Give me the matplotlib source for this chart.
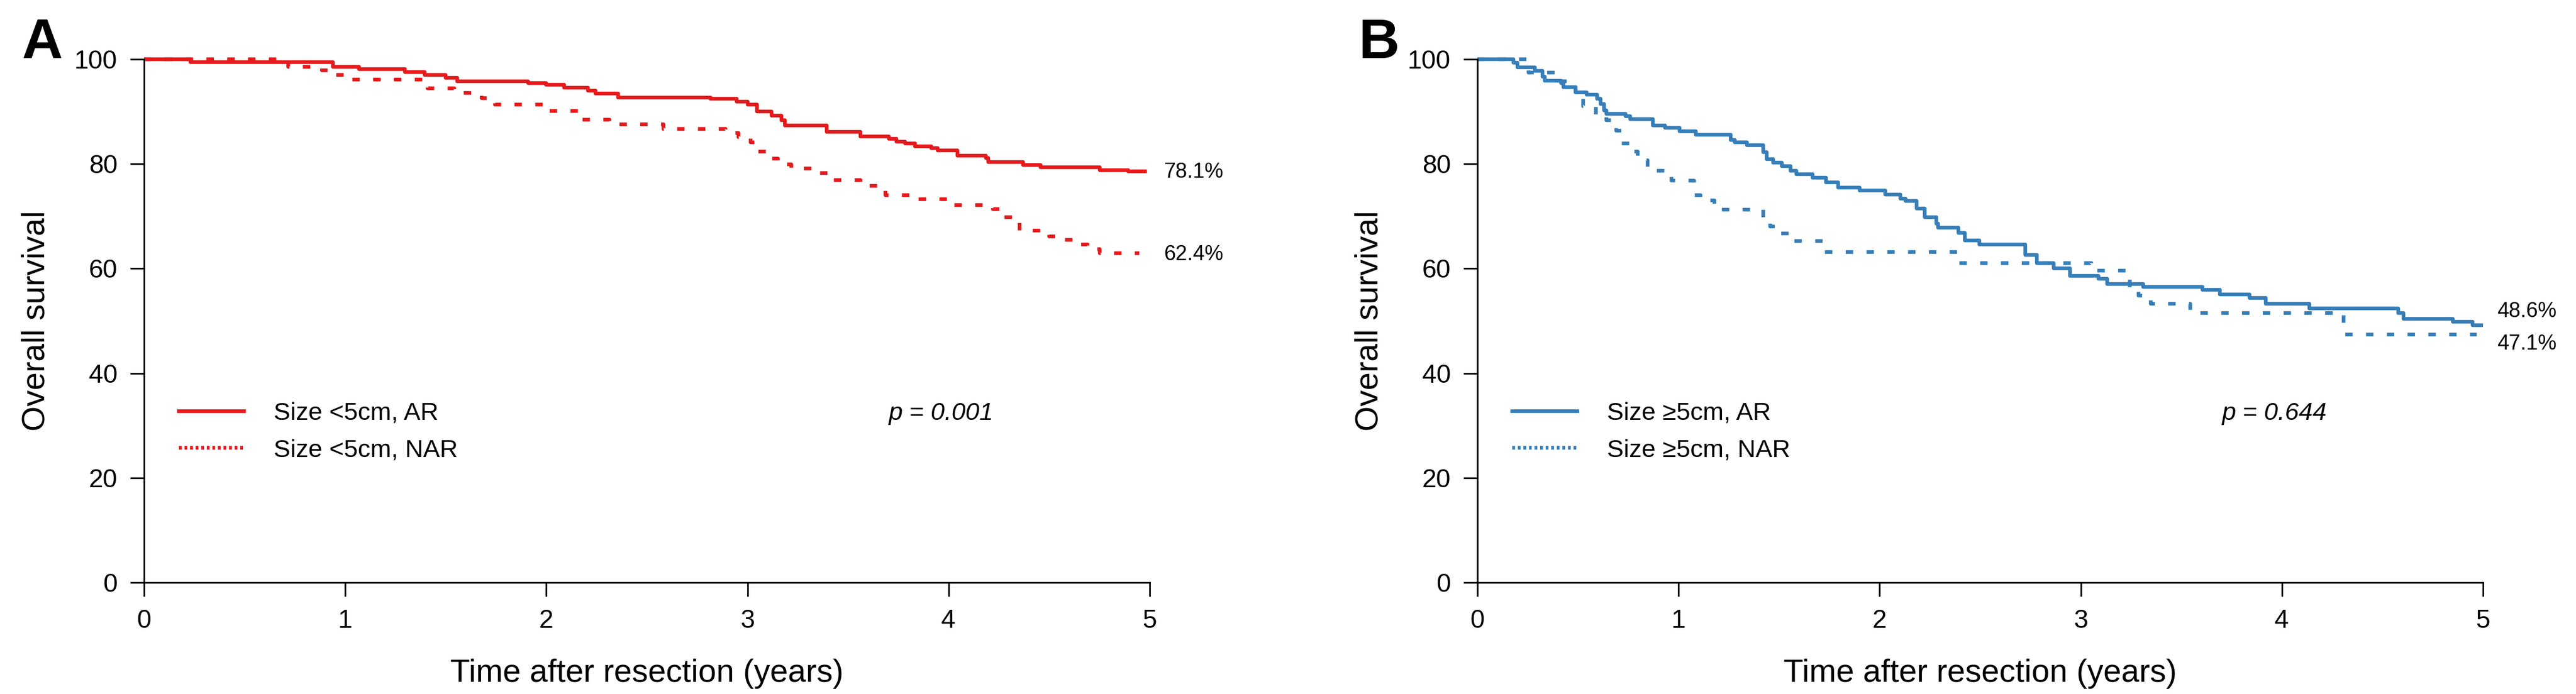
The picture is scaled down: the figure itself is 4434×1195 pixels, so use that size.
import matplotlib
matplotlib.use("Agg")
import matplotlib.pyplot as plt
from matplotlib.lines import Line2D

plt.rcParams['font.family'] = ['Liberation Sans', 'DejaVu Sans']

# ---------------- data ----------------
# Panel A: tumour size < 5 cm
a_ar_t = [0, 0.232, 0.939, 1.069, 1.297, 1.395, 1.498, 1.558, 1.908, 2.0, 2.087, 2.207,
          2.244, 2.358, 2.815, 2.945, 3.0, 3.048, 3.119, 3.168, 3.185, 3.393, 3.561, 3.702,
          3.740, 3.784, 3.833, 3.914, 3.947, 4.044, 4.185, 4.197, 4.370, 4.457, 4.751,
          4.892, 4.985]
a_ar_s = [100, 99.4, 98.6, 98.1, 97.6, 97.0, 96.4, 95.8, 95.4, 95.1, 94.55, 94.0,
          93.4, 92.7, 92.4, 91.85, 91.3, 90.0, 89.2, 88.4, 87.3, 86.1, 85.2, 84.85,
          84.2, 83.9, 83.3, 83.0, 82.6, 81.55, 81.1, 80.3, 79.85, 79.4, 78.8,
          78.55, 78.55]

a_nar_t = [0, 0.716, 0.885, 0.944, 1.02, 1.411, 1.542, 1.678, 1.745, 1.994, 2.163, 2.315,
           2.581, 2.891, 2.956, 3.016, 3.053, 3.102, 3.151, 3.217, 3.348, 3.414, 3.561,
           3.686, 3.833, 3.994, 4.219, 4.262, 4.327, 4.354, 4.500, 4.567, 4.648, 4.691,
           4.751, 4.947]
a_nar_s = [100, 98.6, 97.9, 97.0, 96.15, 94.4, 93.6, 92.6, 91.3, 90.15, 88.45, 87.6,
           86.7, 85.85, 85.15, 84.1, 82.4, 81.0, 79.9, 79.1, 78.2, 76.9, 75.8,
           74.0, 73.2, 72.15, 71.4, 69.85, 69.1, 67.25, 66.15, 65.5, 64.6, 63.7,
           62.9, 62.9]

# Panel B: tumour size >= 5 cm
b_ar_t = [0, 0.18, 0.20, 0.286, 0.324, 0.335, 0.416, 0.427, 0.489, 0.542, 0.596, 0.612,
          0.629, 0.640, 0.738, 0.759, 0.872, 0.933, 1.004, 1.085, 1.259, 1.281, 1.341,
          1.422, 1.439, 1.470, 1.514, 1.558, 1.585, 1.667, 1.733, 1.794, 1.902, 2.027,
          2.103, 2.130, 2.184, 2.223, 2.282, 2.29, 2.391, 2.424, 2.495, 2.723, 2.782,
          2.864, 2.945, 3.087, 3.130, 3.309, 3.605, 3.692, 3.838, 3.920, 4.137, 4.577,
          4.604, 4.849, 4.947, 5.0]
b_ar_s = [100, 99.3, 98.4, 97.8, 96.7, 95.85, 95.4, 94.7, 93.7, 93.2, 92.4, 91.5,
          90.2, 89.6, 89.1, 88.55, 87.4, 86.85, 86.2, 85.6, 84.6, 84.15, 83.6,
          82.2, 80.9, 80.2, 79.6, 78.7, 78.0, 77.4, 76.5, 75.5, 74.9, 74.1,
          73.4, 72.9, 71.5, 69.8, 68.6, 67.85, 66.85, 65.4, 64.6, 62.6, 61.0,
          60.0, 58.6, 58.0, 57.1, 56.5, 55.9, 55.0, 54.4, 53.3, 52.4, 51.5,
          50.4, 49.8, 49.2, 49.2]

b_nar_t = [0, 0.254, 0.391, 0.489, 0.526, 0.588, 0.64, 0.689, 0.716, 0.757, 0.797, 0.846,
           0.966, 1.077, 1.11, 1.178, 1.420, 1.455, 1.498, 1.547, 1.723, 2.391, 3.053,
           3.244, 3.287, 3.347, 3.544, 4.306, 4.968]
b_nar_s = [100, 97.5, 95.8, 92.4, 91.0, 89.25, 88.3, 86.3, 83.9, 82.4, 80.7, 78.7,
           76.85, 74.0, 73.0, 71.25, 69.5, 68.0, 66.7, 65.3, 63.1, 61.0, 59.6,
           56.0, 54.8, 53.3, 51.55, 47.4, 47.4]

labels_a = ["Size <5cm, AR", "Size <5cm, NAR"]
labels_b = ["Size \u22655cm, AR", "Size \u22655cm, NAR"]
end_a = ["78.1%", "62.4%"]
end_b = ["48.6%", "47.1%"]
pvals = ["p = 0.001", "p = 0.644"]
xticks = [0, 1, 2, 3, 4, 5]
yticks = [0, 20, 40, 60, 80, 100]

RED = "#E41A1C"
BLUE = "#377EB8"

W, H = 4434, 1195
fig = plt.figure(figsize=(W / 100, H / 100), dpi=100)

def px_axes(x0, x1, y_top, y_bot):
    return fig.add_axes([x0 / W, (H - y_bot) / H, (x1 - x0) / W, (y_bot - y_top) / H])

axA = px_axes(248, 1979, 102, 1003)
axB = px_axes(2543, 4274, 102, 1003)

LW = 4.6
curve_dash = (0, (2.0, 3.6))
legend_dash = (0, (0.75, 0.75))

def style(ax):
    ax.set_xlim(0, 5)
    ax.set_ylim(0, 100)
    ax.set_xticks(xticks)
    ax.set_yticks(yticks)
    for s in ("top", "right"):
        ax.spines[s].set_visible(False)
    for s in ("left", "bottom"):
        ax.spines[s].set_linewidth(2.0)
    ax.tick_params(direction="out", length=17, width=2.0, labelsize=32, pad=16)
    ax.set_xlabel("Time after resection (years)", fontsize=40)
    ax.set_ylabel("Overall survival", fontsize=40)
    ax.xaxis.set_label_coords(0.5, -0.145)
    ax.yaxis.set_label_coords(-0.092, 0.5)

def panel(ax, t1, s1, t2, s2, color, labels, ends, end_y, pval, letter, letter_x):
    style(ax)
    ax.step(t1, s1, where="post", color=color, lw=LW, clip_on=False, solid_capstyle="butt")
    ax.step(t2, s2, where="post", color=color, lw=LW, linestyle=curve_dash, clip_on=False)
    handles = [Line2D([], [], color=color, lw=LW),
               Line2D([], [], color=color, lw=LW, linestyle=legend_dash)]
    ax.legend(handles, labels, loc="center left", bbox_to_anchor=(0.0245, 0.288),
              frameon=False, fontsize=31, handlelength=2.6, handletextpad=1.2,
              labelspacing=0.55, borderaxespad=0)
    for txt, yv in zip(ends, end_y):
        ax.text(5.07, yv, txt, fontsize=26, va="center", ha="left", clip_on=False)
    ax.text(3.7, 32.3, pval, fontsize=31, style="italic", va="center", ha="left")
    fig.text(letter_x / W, 1 - 30 / H, letter, fontsize=70, fontweight="bold",
             va="top", ha="left")

panel(axA, a_ar_t, a_ar_s, a_nar_t, a_nar_s, RED, labels_a, end_a, [78.4, 62.7],
      pvals[0], "A", 38)
panel(axB, b_ar_t, b_ar_s, b_nar_t, b_nar_s, BLUE, labels_b, end_b, [51.8, 45.6],
      pvals[1], "B", 2338)

fig.savefig("out.png", dpi=100)
